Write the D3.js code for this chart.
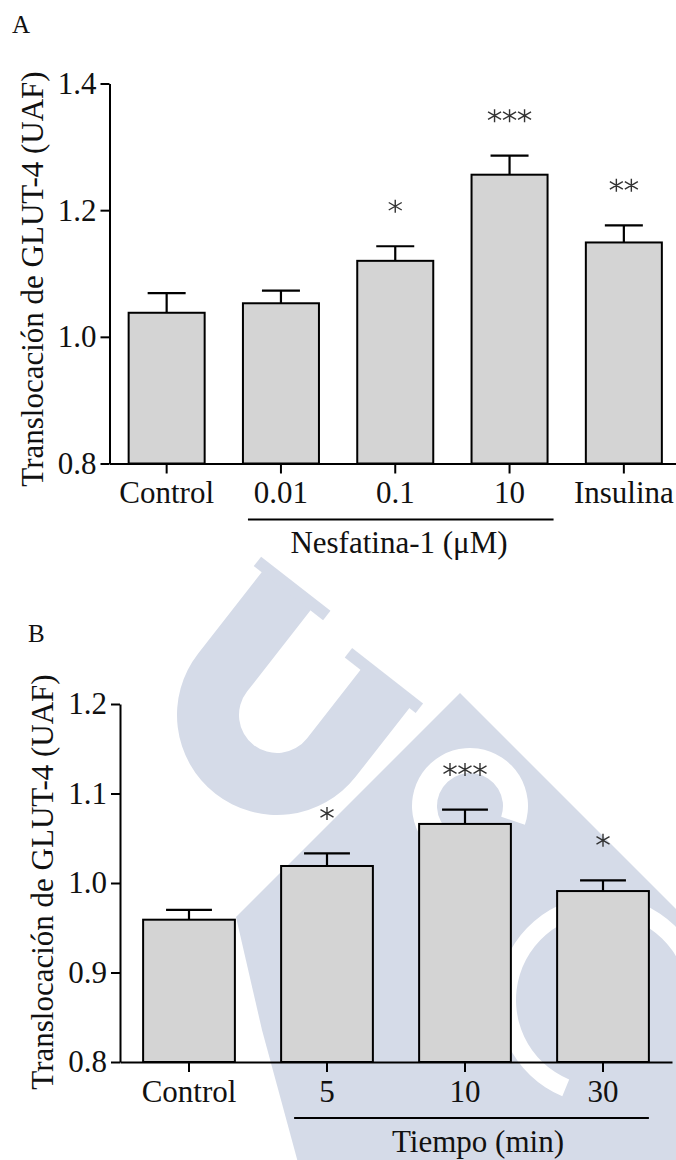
<!DOCTYPE html>
<html>
<head>
<meta charset="utf-8">
<script src="https://cdn.jsdelivr.net/npm/d3@7.9.0/dist/d3.min.js"></script>
<style>
  html, body { margin: 0; padding: 0; background: #fff; }
  svg { display: block; }
</style>
</head>
<body>
<svg id="chart" width="676" height="1160" style="font-family:'Liberation Serif'"></svg>
<script>
// panel A data
const groupsA = ["Control", "0.01", "0.1", "10", "Insulina"];
const meansA = [1.038, 1.053, 1.120, 1.256, 1.149];
const semA = [0.031, 0.020, 0.023, 0.030, 0.027];
const starsA = [0, 0, 1, 3, 2];
const ticksA = [0.8, 1.0, 1.2, 1.4];

// panel B data
const groupsB = ["Control", "5", "10", "30"];
const meansB = [0.959, 1.019, 1.066, 0.991];
const semB = [0.011, 0.014, 0.016, 0.012];
const starsB = [0, 1, 3, 1];
const ticksB = [0.8, 0.9, 1.0, 1.1, 1.2];

const yTitle = "Translocación de GLUT-4 (UAF)";
const FONT = "'Liberation Serif'";

const svg = d3.select("#chart");

// watermark (light logo behind panel B)
const wm = svg.append("g").attr("class", "watermark");
const wmColor = "#d5dbe8";
wm.append("polygon")
  .attr("points", "460,693 730,963 730,1170 300,1170 262,1030 236,917")
  .attr("fill", wmColor);
const uShape = wm.append("g").attr("transform", "translate(277,715) rotate(38)").attr("fill", wmColor);
uShape.append("path")
  .attr("d", "M-100,-113 L-100,0 A100,100 0 0 0 100,0 L100,-97 L38,-97 L38,0 A38,38 0 0 1 -38,0 L-38,-113 Z");
uShape.append("rect").attr("x", -110).attr("y", -115).attr("width", 88).attr("height", 12);
uShape.append("rect").attr("x", 18).attr("y", -99).attr("width", 90).attr("height", 12);
wm.append("path")
  .attr("transform", "translate(470,806)")
  .attr("fill", "#fff")
  .attr("d", d3.arc().innerRadius(33).outerRadius(58).startAngle(2.9).endAngle(2.9 + 2 * Math.PI - 1.0)());
wm.append("path")
  .attr("transform", "translate(602,1000)")
  .attr("fill", "#fff")
  .attr("d", d3.arc().innerRadius(86).outerRadius(104).startAngle(-2.75).endAngle(1.7)());

// six-armed asterisk
function starPath(cx, cy) {
  const a = 6.5, b = 3.75;
  return `M${cx},${cy - 6.5}L${cx},${cy + 6.5}` +
    `M${cx - a},${cy - b}L${cx + a},${cy + b}` +
    `M${cx - a},${cy + b}L${cx + a},${cy - b}`;
}

function label(sel, size) {
  return sel.attr("font-family", "Liberation Serif")
    .style("font-family", FONT)
    .style("font-size", size + "px")
    .attr("fill", "#111");
}

function drawPanel(opt) {
  const g = svg.append("g");

  const x = d3.scaleBand()
    .domain(opt.groups)
    .range(opt.xRange)
    .paddingInner(0.335)
    .paddingOuter(0.335 / 2);

  const y = d3.scaleLinear()
    .domain([opt.ticks[0], opt.ticks[opt.ticks.length - 1]])
    .range(opt.yRange);

  const rows = opt.groups.map((k, i) => ({ k, m: opt.means[i], e: opt.sem[i], s: opt.stars[i] }));
  const bw = x.bandwidth();

  // error bars (upper only)
  g.append("g").selectAll("path")
    .data(rows)
    .join("path")
    .attr("d", d => {
      const cx = x(d.k) + bw / 2;
      return `M${cx},${y(d.m)}V${y(d.m + d.e)}M${cx - bw / 4},${y(d.m + d.e)}H${cx + bw / 4}`;
    })
    .attr("stroke", "#000")
    .attr("stroke-width", 2.2)
    .attr("fill", "none");

  // bars
  g.append("g").selectAll("rect")
    .data(rows)
    .join("rect")
    .attr("x", d => x(d.k))
    .attr("y", d => y(d.m))
    .attr("width", bw)
    .attr("height", d => y(opt.ticks[0]) - y(d.m))
    .attr("fill", "#d4d4d4")
    .attr("stroke", "#000")
    .attr("stroke-width", 2);

  // significance stars
  g.append("g").selectAll("path")
    .data(rows.filter(d => d.s > 0))
    .join("path")
    .attr("d", d => {
      const cx = x(d.k) + bw / 2;
      const cy = y(d.m + d.e) - 40;
      return d3.range(d.s).map(j => starPath(cx + (j - (d.s - 1) / 2) * 15, cy)).join("");
    })
    .attr("stroke", "#333")
    .attr("stroke-width", 1.4)
    .attr("fill", "none");

  // axes
  const yAxis = g.append("g")
    .attr("transform", `translate(${opt.xRange[0]},0)`)
    .call(d3.axisLeft(y).tickValues(opt.ticks).tickFormat(d3.format(".1f")).tickSize(9).tickPadding(4).tickSizeOuter(0));

  const xAxis = g.append("g")
    .attr("transform", `translate(0,${opt.yRange[0]})`)
    .call(d3.axisBottom(x).tickSize(10).tickSizeOuter(0));

  xAxis.selectAll("text").attr("dy", null).attr("y", 39.5);

  for (const ax of [xAxis, yAxis]) {
    ax.attr("font-family", "Liberation Serif").attr("font-size", 31);
    ax.selectAll("path, line").attr("stroke", "#000").attr("stroke-width", 2);
    label(ax.selectAll("text"), 31);
  }

  // group bracket under x labels
  g.append("line")
    .attr("x1", x(opt.bracket[0]) + opt.bracketPad[0])
    .attr("x2", x(opt.bracket[1]) + bw + opt.bracketPad[1])
    .attr("y1", opt.yRange[0] + 56)
    .attr("y2", opt.yRange[0] + 56)
    .attr("stroke", "#000")
    .attr("stroke-width", 2);

  label(g.append("text"), 31)
    .attr("x", opt.bracketLabelX)
    .attr("y", opt.yRange[0] + 89.5)
    .attr("text-anchor", "middle")
    .text(opt.bracketLabel);

  // y title
  label(g.append("text"), 31)
    .attr("transform", `translate(${opt.xRange[0] - 67},${opt.titleY}) rotate(-90)`)
    .attr("text-anchor", "middle")
    .text(yTitle);

  // panel letter
  label(g.append("text"), 25)
    .attr("x", opt.letterPos[0])
    .attr("y", opt.letterPos[1])
    .text(opt.letter);
}

drawPanel({
  groups: groupsA, means: meansA, sem: semA, stars: starsA, ticks: ticksA,
  xRange: [109.5, 681], yRange: [463.5, 83.5],
  bracket: ["0.01", "10"], bracketPad: [5, 6], bracketLabel: "Nesfatina-1 (μM)", bracketLabelX: 399,
  titleY: 279, letter: "A", letterPos: [12, 33]
});

drawPanel({
  groups: groupsB, means: meansB, sem: semB, stars: starsB, ticks: ticksB,
  xRange: [120, 672], yRange: [1062, 704],
  bracket: ["5", "30"], bracketPad: [13, 0], bracketLabel: "Tiempo (min)", bracketLabelX: 478,
  titleY: 882, letter: "B", letterPos: [28, 642]
});
</script>
</body>
</html>
